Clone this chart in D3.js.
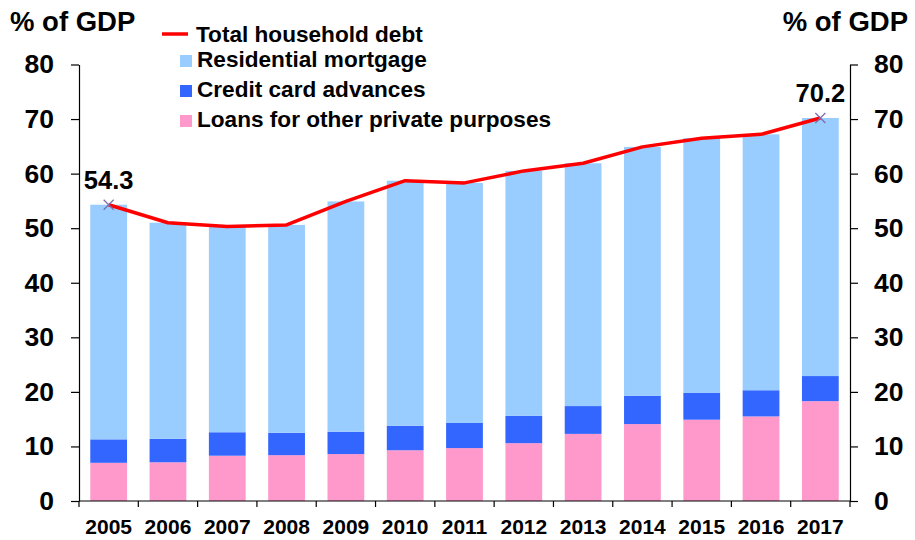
<!DOCTYPE html>
<html><head><meta charset="utf-8">
<script src="https://cdn.jsdelivr.net/npm/d3@7"></script>
<style>body{margin:0;background:#fff}svg{display:block;font-family:"Liberation Sans",Arial,sans-serif;font-weight:bold}</style>
</head><body><svg id="c" width="915" height="540"></svg>
<script>
const years = ["2005","2006","2007","2008","2009","2010","2011","2012","2013","2014","2015","2016","2017"];
const otherLoans = [7.0, 7.1, 8.3, 8.4, 8.6, 9.3, 9.7, 10.6, 12.3, 14.1, 14.9, 15.5, 18.3];
const creditCard = [4.3, 4.3, 4.3, 4.1, 4.1, 4.5, 4.6, 5.0, 5.1, 5.2, 4.9, 4.8, 4.6];
const mortgage = [43.0, 39.6, 37.7, 38.1, 42.2, 44.9, 44.0, 44.9, 44.5, 45.6, 46.7, 46.9, 47.3];
const totalDebt = [54.3, 51.0, 50.3, 50.6, 54.9, 58.7, 58.3, 60.5, 61.9, 64.9, 66.5, 67.2, 70.2];
const yTicks = [0, 10, 20, 30, 40, 50, 60, 70, 80];
const seriesNames = ["Loans for other private purposes", "Credit card advances", "Residential mortgage"];
const colors = {"Loans for other private purposes":"#FF99CC","Credit card advances":"#3366FF","Residential mortgage":"#99CCFF"};

const svg = d3.select("#c");
const L = 79, R = 850, T = 64.5, B = 501;
const x = d3.scaleBand().domain(years).range([L, R]).paddingInner(0.38).paddingOuter(0.19);
const y = d3.scaleLinear().domain([0, 80]).range([B, T]);

const rows = years.map((yr, i) => ({year: yr, "Loans for other private purposes": otherLoans[i], "Credit card advances": creditCard[i], "Residential mortgage": mortgage[i]}));
const stack = d3.stack().keys(seriesNames)(rows);

svg.append("g").selectAll("g").data(stack).join("g").attr("fill", d => colors[d.key])
  .selectAll("rect").data(d => d).join("rect")
  .attr("x", d => x(d.data.year)).attr("width", x.bandwidth())
  .attr("y", d => y(d[1])).attr("height", d => y(d[0]) - y(d[1]));

// axes
const fs = 26.5;
const la = svg.append("g").attr("transform", `translate(${L},0)`)
  .call(d3.axisLeft(y).tickValues(yTicks).tickSize(8).tickPadding(17).tickSizeOuter(0));
const ra = svg.append("g").attr("transform", `translate(${R},0)`)
  .call(d3.axisRight(y).tickValues(yTicks).tickSize(8).tickPadding(16).tickSizeOuter(0));
[la, ra].forEach(g => {
  g.selectAll("text").style("font-size", fs + "px").style("font-weight", "bold").style("font-family", '"Liberation Sans",Arial,sans-serif').attr("fill", "#000");
  g.selectAll("line,path").attr("stroke", "#000").attr("stroke-width", 1.2);
});
// x axis
const xa = svg.append("g").attr("transform", `translate(0,${B})`)
  .call(d3.axisBottom(x).tickSize(0).tickPadding(18).tickSizeOuter(0));
xa.select("path").attr("stroke", "#000").attr("stroke-width", 1.2).attr("d", `M${L},0H${R}`);
xa.selectAll("text").style("font-size", "21px").style("font-weight", "bold").style("font-family", '"Liberation Sans",Arial,sans-serif').attr("fill", "#000");
const bounds = d3.range(years.length + 1).map(i => L + i * x.step());
xa.selectAll("line.b").data(bounds).join("line").attr("class", "b")
  .attr("x1", d => d).attr("x2", d => d).attr("y1", 0).attr("y2", 6).attr("stroke", "#000").attr("stroke-width", 1.2);

// line
const cx = (i) => x(years[i]) + x.bandwidth() / 2;
svg.append("path").datum(totalDebt)
  .attr("d", d3.line().x((d, i) => cx(i)).y(d => y(d)))
  .attr("fill", "none").attr("stroke", "#FF0000").attr("stroke-width", 3.5).attr("stroke-linejoin", "round");

// markers and labels at ends
[0, years.length - 1].forEach(i => {
  const px = cx(i), py = y(totalDebt[i]), s = 5;
  svg.append("path").attr("d", `M${px - s},${py - s}L${px + s},${py + s}M${px - s},${py + s}L${px + s},${py - s}`)
    .attr("stroke", "#7B6BB0").attr("stroke-width", 1.2);
  svg.append("text").attr("x", px).attr("y", py - 16).attr("text-anchor", "middle")
    .style("font-size", "25.5px").text(totalDebt[i].toFixed(1));
});

// unit titles
svg.append("text").attr("x", 10).attr("y", 31).style("font-size", "27.5px").text("% of GDP");
svg.append("text").attr("x", 908).attr("y", 31).attr("text-anchor", "end").style("font-size", "27.5px").text("% of GDP");

// legend
const lg = svg.append("g");
lg.append("line").attr("x1", 162).attr("x2", 188).attr("y1", 34).attr("y2", 34).attr("stroke", "#FF0000").attr("stroke-width", 3.5);
lg.append("text").attr("x", 196).attr("y", 42).style("font-size", "22.6px").text("Total household debt");
const legItems = ["Residential mortgage", "Credit card advances", "Loans for other private purposes"];
legItems.forEach((k, i) => {
  lg.append("rect").attr("x", 180).attr("y", 55 + i * 30).attr("width", 12).attr("height", 12).attr("fill", colors[k]);
  lg.append("text").attr("x", 197).attr("y", 67 + i * 30).style("font-size", "22.6px").text(k);
});
</script></body></html>
